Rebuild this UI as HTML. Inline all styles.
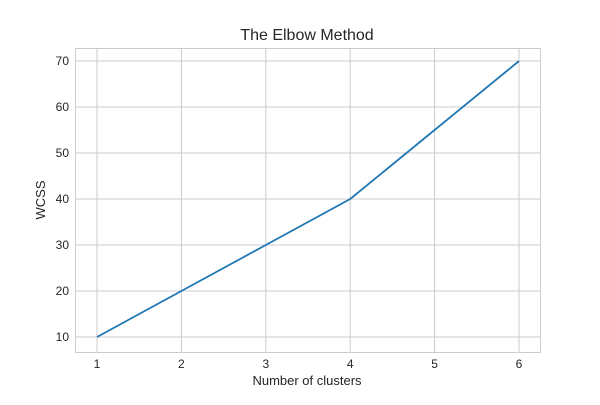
<!DOCTYPE html>
<html><head><meta charset="utf-8"><style>
body{margin:0;background:#fff;}
svg{font-family:"Liberation Sans","DejaVu Sans",sans-serif;}
</style></head><body>
<svg id="chart" width="600" height="400">
<rect x="0" y="0" width="600" height="400" fill="#fff"/>
<g id="grid"></g>
<rect x="75.5" y="48.5" width="465" height="304" fill="none" stroke="#cccccc" stroke-width="1"/>
<g id="ticks"></g>
<path id="line" fill="none" stroke="#1f77b4" stroke-width="1.8"/>
<text x="307" y="40" text-anchor="middle" font-size="16" fill="#262626">The Elbow Method</text>
<text x="307" y="385" text-anchor="middle" font-size="13" fill="#262626">Number of clusters</text>
<text x="45" y="200" text-anchor="middle" font-size="13" fill="#262626" transform="rotate(-90 45 200)">WCSS</text>
</svg>
<script>
const clusters=[1,2,3,4,5,6];
const wcss=[10,20,30,40,55,70];
const xTicks=[1,2,3,4,5,6];
const yTicks=[10,20,30,40,50,60,70];
const NS="http://www.w3.org/2000/svg";
function xs(v){return 97+(v-1)*(519-97)/5;}
function ys(v){return 337-(v-10)*(337-61)/60;}
const grid=document.getElementById('grid'),ticks=document.getElementById('ticks');
xTicks.forEach(t=>{
  const l=document.createElementNS(NS,'line');
  
  
  l.setAttribute('x1',xs(t));l.setAttribute('x2',xs(t));l.setAttribute('y1',48);l.setAttribute('y2',352);
  l.setAttribute('stroke','#cccccc');grid.appendChild(l);
  const tx=document.createElementNS(NS,'text');
  
  
  tx.setAttribute('x',xs(t));tx.setAttribute('y',368);tx.setAttribute('text-anchor','middle');
  tx.setAttribute('font-size','12');tx.setAttribute('fill','#262626');tx.textContent=t;ticks.appendChild(tx);
});
yTicks.forEach(t=>{
  const l=document.createElementNS(NS,'line');
  
  
  l.setAttribute('x1',75);l.setAttribute('x2',540);l.setAttribute('y1',ys(t));l.setAttribute('y2',ys(t));
  l.setAttribute('stroke','#cccccc');grid.appendChild(l);
  const tx=document.createElementNS(NS,'text');
  
  
  tx.setAttribute('x',69);tx.setAttribute('y',ys(t)+4);tx.setAttribute('text-anchor','end');
  tx.setAttribute('font-size','12');tx.setAttribute('fill','#262626');tx.textContent=t;ticks.appendChild(tx);
});
document.getElementById('line').setAttribute('d',clusters.map((c,i)=>(i?'L':'M')+xs(c)+','+ys(wcss[i])).join(' '));
</script>
</body></html>
